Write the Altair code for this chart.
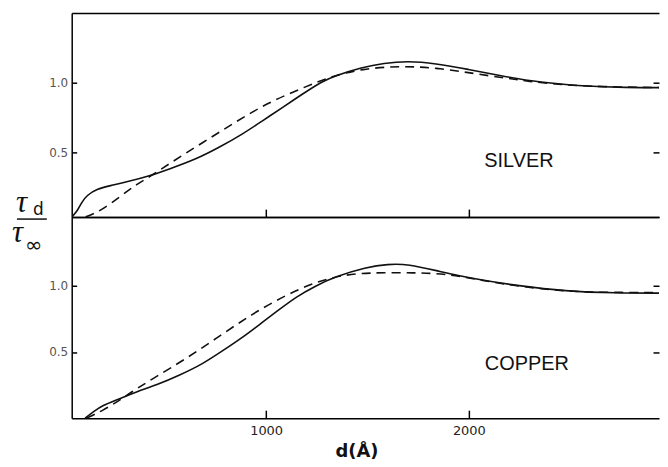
import altair as alt
import pandas as pd

# ---- data ----
x_domain = [41, 2938]
top_domain = [0.034, 1.5]
bot_domain = [0.0, 1.52]
y_ticks = [0.5, 1.0]
x_ticks = [1000, 2000]

silver_solid_d = [43, 70, 90, 115, 164, 230, 312, 426, 524, 655, 770, 884, 982, 1080, 1178, 1277,
                  1342, 1473, 1580, 1700, 1833, 1997, 2160, 2357, 2553, 2782, 2963]
silver_solid_v = [0.036, 0.08, 0.14, 0.19, 0.235, 0.26, 0.286, 0.33, 0.38, 0.45, 0.536, 0.63, 0.726,
                  0.82, 0.917, 1.01, 1.05, 1.11, 1.14, 1.155, 1.138, 1.096, 1.048, 1.0, 0.976, 0.964, 0.964]

silver_dash_d = [110, 180, 279, 361, 434, 524, 688, 852, 1015, 1178, 1310, 1473, 1669, 1850, 2030,
                 2193, 2291, 2450, 2650, 2963]
silver_dash_v = [0.036, 0.075, 0.18, 0.27, 0.33, 0.42, 0.57, 0.72, 0.86, 0.96, 1.04, 1.10, 1.12, 1.105,
                 1.064, 1.03, 1.01, 0.985, 0.97, 0.964]

copper_solid_d = [107, 148, 197, 262, 361, 459, 573, 688, 786, 884, 982, 1064, 1146, 1244, 1342,
                  1493, 1600, 1700, 1853, 2033, 2246, 2474, 2720, 2965]
copper_solid_v = [0.0, 0.05, 0.10, 0.137, 0.20, 0.25, 0.325, 0.41, 0.51, 0.61, 0.725, 0.82, 0.915,
                  1.0, 1.07, 1.14, 1.165, 1.165, 1.11, 1.05, 1.0, 0.96, 0.945, 0.945]

copper_dash_d = [115, 197, 279, 328, 442, 606, 770, 933, 1097, 1244, 1375, 1493, 1738, 1902, 2066,
                 2250, 2474, 2638, 2965]
copper_dash_v = [0.0, 0.06, 0.137, 0.19, 0.30, 0.45, 0.62, 0.79, 0.93, 1.03, 1.08, 1.10, 1.10, 1.09,
                 1.04, 0.995, 0.96, 0.95, 0.95]

panel_names = ["SILVER", "COPPER"]
label_d = [2247, 2286]
label_v = [0.44, 0.41]

INK = "#111111"


def axis(**kw):
    base = dict(grid=False, domainColor="black", domainWidth=1.5, tickColor="black", tickWidth=1.5)
    base.update(kw)
    return alt.Axis(**base)


def panel(sd, sv, dd, dv, name, ld, lv, y_domain, height, bottom, fraction):
    xs = alt.Scale(domain=x_domain, nice=False, zero=False)
    ys = alt.Scale(domain=y_domain, nice=False, zero=False)

    if bottom:
        ax_a = axis(orient="bottom", values=x_ticks, ticks=False, domain=True, labels=True, format="d",
                    labelFont="DejaVu Sans", labelFontSize=13, labelColor="#222222",
                    labelPadding=6, title="d(Å)", titleFont="DejaVu Sans", titleFontSize=18,
                    titleFontWeight="bold", titleColor=INK, titleX=286, titleY=39,
                    titleBaseline="alphabetic", titleAlign="center")
    else:
        ax_a = axis(orient="bottom", values=x_ticks, ticks=False, domain=True, labels=False, title=None)
    ay_a = axis(orient="left", values=y_ticks, ticks=False, domain=True, labels=True,
                labelFont="DejaVu Sans", labelFontSize=12, labelColor="#555555", labelPadding=4,
                format=".1f", title=None)

    solid = alt.Chart(pd.DataFrame({"d": sd, "v": sv})).mark_line(
        color=INK, strokeWidth=1.6, interpolate="basis", clip=True
    ).encode(x=alt.X("d:Q", scale=xs, axis=ax_a), y=alt.Y("v:Q", scale=ys, axis=ay_a))

    ax_b = axis(orient="bottom", values=x_ticks, ticks=True, tickSize=8, offset=-8,
                domain=False, labels=False, title=None)
    ay_b = axis(orient="left", values=y_ticks, ticks=True, tickSize=5, offset=-5,
                domain=False, labels=False, title=None)
    dashed = alt.Chart(pd.DataFrame({"d": dd, "v": dv})).mark_line(
        color=INK, strokeWidth=1.6, strokeDash=[9, 6], interpolate="basis", clip=True
    ).encode(x=alt.X("d:Q", scale=xs, axis=ax_b), y=alt.Y("v:Q", scale=ys, axis=ay_b))

    ax_c = axis(orient="top", values=x_ticks, ticks=False, domain=True, labels=False, title=None)
    ay_c = axis(orient="right", values=y_ticks, ticks=True, tickSize=6, offset=-6,
                domain=False, labels=False, title=None)
    lab = alt.Chart(pd.DataFrame({"d": [ld], "v": [lv], "t": [name]})).mark_text(
        font="Liberation Sans", fontSize=20, color=INK, align="center", baseline="middle"
    ).encode(x=alt.X("d:Q", scale=xs, axis=ax_c), y=alt.Y("v:Q", scale=ys, axis=ay_c), text="t:N")

    layers = [solid, dashed, lab]
    if fraction:
        one = pd.DataFrame({"k": [0]})
        tau_font = dict(font="Liberation Serif", fontStyle="italic", fontSize=31, color=INK,
                        align="left", baseline="alphabetic")
        layers += [
            alt.Chart(one).mark_text(text="τ", **tau_font).encode(x=alt.value(-56), y=alt.value(200)),
            alt.Chart(one).mark_text(text="d", font="DejaVu Sans", fontSize=17, color=INK,
                                     align="left", baseline="alphabetic").encode(
                x=alt.value(-39), y=alt.value(203)),
            alt.Chart(one).mark_rule(color=INK, strokeWidth=1.5).encode(
                x=alt.value(-55), x2=alt.value(-25), y=alt.value(207)),
            alt.Chart(one).mark_text(text="τ", **tau_font).encode(x=alt.value(-60), y=alt.value(230)),
            alt.Chart(one).mark_text(text="∞", font="DejaVu Sans", fontSize=21, color=INK,
                                     align="left", baseline="alphabetic").encode(
                x=alt.value(-47), y=alt.value(240)),
        ]

    return alt.layer(*layers).resolve_scale(x="independent", y="independent").resolve_axis(
        x="independent", y="independent").properties(width=590, height=height)


top = panel(silver_solid_d, silver_solid_v, silver_dash_d, silver_dash_v, panel_names[0],
            label_d[0], label_v[0], top_domain, 205, False, True)
bottom = panel(copper_solid_d, copper_solid_v, copper_dash_d, copper_dash_v, panel_names[1],
               label_d[1], label_v[1], bot_domain, 202, True, False)

chart = alt.vconcat(top, bottom, spacing=0, bounds="flush").properties(
    padding={"left": 4, "top": 4, "right": 0, "bottom": 0}, background="white"
).configure_view(stroke=None)

chart.save("out.html", embed_options={"renderer": "svg", "actions": False})
